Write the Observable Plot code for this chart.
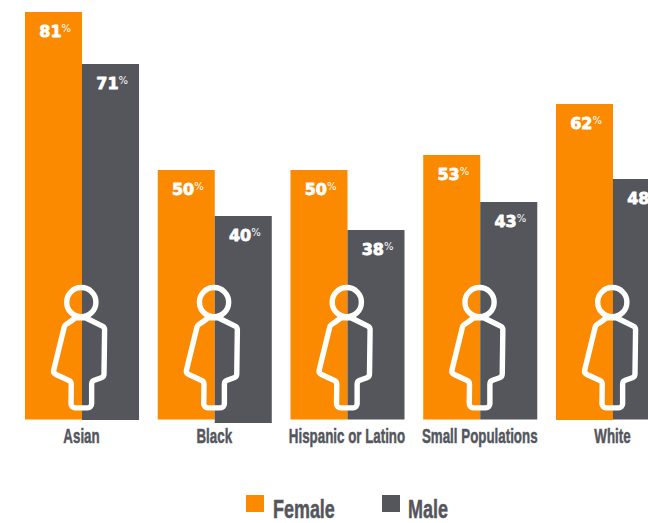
<!DOCTYPE html>
<html>
<head>
<meta charset="utf-8">
<script src="https://cdn.jsdelivr.net/npm/d3@7"></script>
<script src="https://cdn.jsdelivr.net/npm/@observablehq/plot@0.6"></script>
<style>
  html, body { margin: 0; padding: 0; background: #fff; overflow: hidden; }
  #legend { position: relative; height: 53px; font: bold 26px "Liberation Sans", sans-serif; color: #54565c; -webkit-text-stroke: 0.5px #54565c; }
  #legend .sw { position: absolute; top: 25px; width: 18px; height: 17px; }
  #legend .lb { position: absolute; top: 24px; line-height: 30px; transform: scaleX(0.69); transform-origin: left center; white-space: nowrap; }
  svg { display: block; }
</style>
</head>
<body>
<div id="chart"></div>
<div id="legend"></div>
<script>
const groups = ["Asian", "Black", "Hispanic or Latino", "Small Populations", "White"];
const female = [81, 50, 50, 53, 62];
const male = [71, 40, 38, 43, 48];
// Bar lengths as drawn in the picture (the source bars are slightly off their labels)
const femaleDrawn = [81.5, 49.9, 49.9, 52.9, 63.1];
const maleDrawn = [71.1, 40.7, 37.9, 43.5, 48.1];
const femaleBase = [0, 0, 0, 0, -0.1];
const maleBase = [-0.1, -0.7, 0, 0, 0];
const femaleColor = "#fb8a00";
const maleColor = "#54565c";

const femaleRows = groups.map((g, i) => ({group: g, label: female[i], value: femaleDrawn[i], base: femaleBase[i]}));
const maleRows = groups.map((g, i) => ({group: g, label: male[i], value: maleDrawn[i], base: maleBase[i]}));

// Person pictogram outline, relative to the band centre on the zero line
const z = (a, b) => [(a - 245) / 3, b / 3 - 159.5];
const bodyOutline = [z(228, 172), z(195, 195), z(160, 338), z(215, 363), z(214, 442),
                     z(276, 442), z(276, 362), z(313, 349), z(315, 200), z(258, 172)];
const personSymbol = {
  draw(ctx) {
    const [hx, hy] = z(245, 125);
    ctx.moveTo(hx + 14.6, hy);
    ctx.arc(hx, hy, 14.6, 0, 2 * Math.PI);
    ctx.closePath();
    const n = bodyOutline.length, r = 4;
    const first = bodyOutline[0], next = bodyOutline[1];
    ctx.moveTo((first[0] + next[0]) / 2, (first[1] + next[1]) / 2);
    for (let i = 1; i <= n; i++) {
      const p = bodyOutline[i % n], q = bodyOutline[(i + 1) % n];
      ctx.arcTo(p[0], p[1], q[0], q[1], r);
    }
    ctx.closePath();
  }
};

const numFont = {fontFamily: "DejaVu Sans", fontWeight: 900, fill: "white"};
const barHalf = 57;

const plot = Plot.plot({
  width: 648,
  height: 470,
  marginTop: 0,
  marginLeft: 0,
  marginRight: 0,
  marginBottom: 50,
  x: {domain: groups, range: [25, 670], paddingInner: 0.141, paddingOuter: 0, align: 0, round: false, axis: null},
  y: {domain: [0, 81.5], range: [419.5, 12], axis: null},
  marks: [
    Plot.barY(femaleRows, {x: "group", y1: "base", y2: "value", fill: femaleColor, insetRight: barHalf}),
    Plot.barY(maleRows, {x: "group", y1: "base", y2: "value", fill: maleColor, insetLeft: barHalf}),
    Plot.dot(groups, {x: d => d, y: () => 0, dx: -1.2, symbol: personSymbol, fill: "none", stroke: "white", strokeWidth: 5.4, strokeLinejoin: "round"}),
    Plot.text(femaleRows, {x: "group", y: "value", text: d => String(d.label), dx: -21, dy: 19, textAnchor: "end", fontSize: 16, stroke: "white", strokeWidth: 0.8, ...numFont}),
    Plot.text(femaleRows, {x: "group", y: "value", text: () => "%", dx: -21, dy: 16, textAnchor: "start", fontSize: 10, ...numFont, fontWeight: 400}),
    Plot.text(maleRows, {x: "group", y: "value", text: d => String(d.label), dx: 36, dy: 19, textAnchor: "end", fontSize: 16, stroke: "white", strokeWidth: 0.8, ...numFont}),
    Plot.text(maleRows, {x: "group", y: "value", text: () => "%", dx: 36, dy: 16, textAnchor: "start", fontSize: 10, ...numFont, fontWeight: 400}),
    Plot.axisX({domain: groups, tickSize: 0, tickPadding: 8, label: null, fontSize: 21, fontFamily: "Liberation Sans", fontWeight: "bold", color: maleColor, anchor: "bottom"})
  ]
});
document.getElementById("chart").appendChild(plot);

// Narrow the axis labels to the reference's condensed face
plot.querySelectorAll('[aria-label="x-axis tick label"] text').forEach(t => {
  t.setAttribute("textLength", t.getComputedTextLength() * 0.635);
  t.setAttribute("lengthAdjust", "spacingAndGlyphs");
  t.setAttribute("stroke", maleColor);
  t.setAttribute("stroke-width", "0.5");
  t.setAttribute("dx", "-1");
});

const legendItems = [["Female", femaleColor, 246, 273], ["Male", maleColor, 382, 408]];
const legend = document.getElementById("legend");
for (const [name, color, sx, lx] of legendItems) {
  const s = document.createElement("div");
  s.className = "sw"; s.style.left = sx + "px"; s.style.background = color;
  const l = document.createElement("div");
  l.className = "lb"; l.style.left = lx + "px"; l.textContent = name;
  legend.append(s, l);
}
</script>
</body>
</html>
